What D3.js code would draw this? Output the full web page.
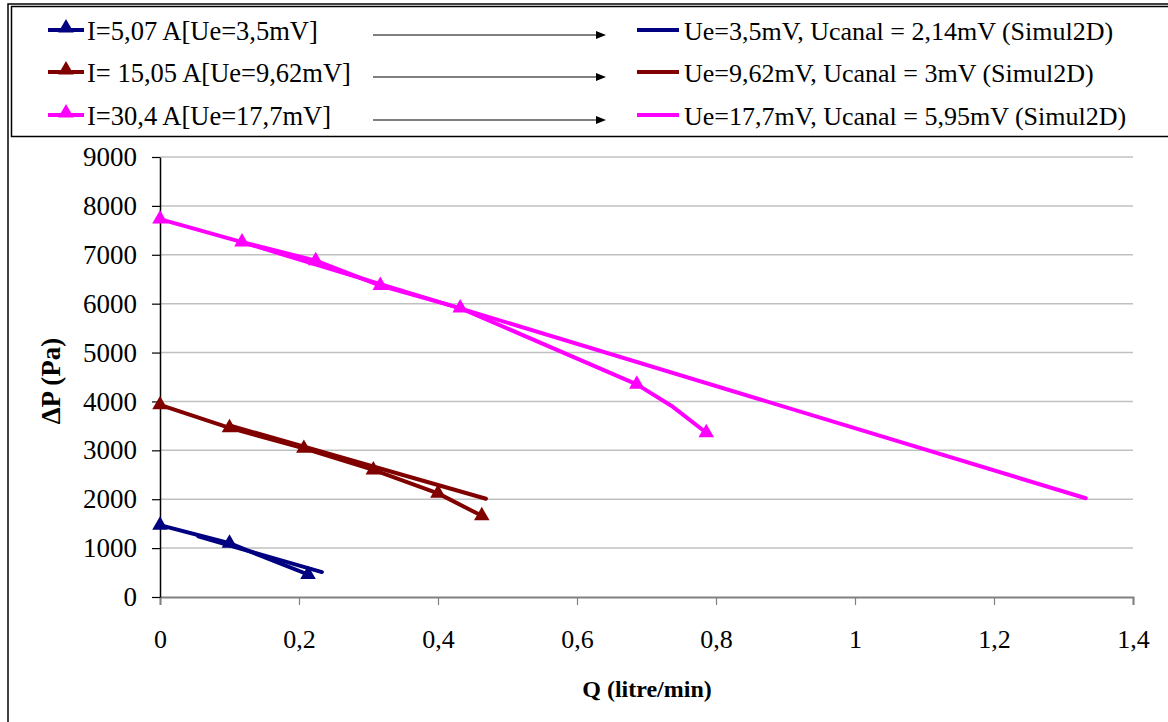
<!DOCTYPE html>
<html><head><meta charset="utf-8">
<script src="https://cdn.jsdelivr.net/npm/d3@7"></script>
<style>body{margin:0;background:#fff}svg{display:block}svg text{font-family:"Liberation Serif","Times New Roman",Times,serif}</style>
</head><body><svg id="c" width="1168" height="722"></svg>
<script>
// ---- data ----
const xTicks = [0, 0.2, 0.4, 0.6, 0.8, 1, 1.2, 1.4];
const yTicks = [0, 1000, 2000, 3000, 4000, 5000, 6000, 7000, 8000, 9000];
const seriesColors = ["#000080", "#800000", "#ff00ff"];
const expLabels = ["I=5,07 A[Ue=3,5mV]", "I= 15,05 A[Ue=9,62mV]", "I=30,4 A[Ue=17,7mV]"];
const simLabels = ["Ue=3,5mV, Ucanal = 2,14mV (Simul2D)", "Ue=9,62mV, Ucanal = 3mV (Simul2D)", "Ue=17,7mV, Ucanal = 5,95mV (Simul2D)"];
// measured series (Q, dP); marker flag: 1 = triangle shown
const exp1Q = [0, 0.1, 0.213];
const exp1P = [1470, 1100, 460];
const exp1M = [1, 1, 1];
const exp2Q = [0, 0.1, 0.207, 0.307, 0.4, 0.463];
const exp2P = [3930, 3460, 3040, 2600, 2120, 1660];
const exp2M = [1, 1, 1, 1, 1, 1];
const exp3Q = [0, 0.118, 0.224, 0.317, 0.432, 0.686, 0.738, 0.786];
const exp3P = [7730, 7260, 6880, 6370, 5910, 4350, 3890, 3360];
const exp3M = [1, 1, 1, 1, 1, 1, 0, 1];
// simulation series
const sim1Q = [0.055, 0.233];
const sim1P = [1240, 510];
const sim2Q = [0.1, 0.469];
const sim2P = [3510, 2010];
const sim3Q = [0.12, 1.332];
const sim3P = [7250, 2020];

const exps = [[exp1Q, exp1P, exp1M], [exp2Q, exp2P, exp2M], [exp3Q, exp3P, exp3M]]
  .map(([q, p, m]) => q.map((v, i) => ({q: v, p: p[i], m: m[i]})));
const sims = [[sim1Q, sim1P], [sim2Q, sim2P], [sim3Q, sim3P]]
  .map(([q, p]) => q.map((v, i) => ({q: v, p: p[i]})));

const svg = d3.select("#c");
const x = d3.scaleLinear().domain([0, 1.4]).range([160, 1133]);
const y = d3.scaleLinear().domain([0, 9000]).range([597, 157]);
const fmt = d => String(d).replace(".", ",");

// outer border
svg.append("rect").attr("x", 8).attr("y", 4).attr("width", 1170).attr("height", 730)
  .attr("fill", "none").attr("stroke", "#000").attr("stroke-width", 1.5);
// legend box
svg.append("rect").attr("x", 11.5).attr("y", 6.5).attr("width", 1170).attr("height", 130)
  .attr("fill", "#fff").attr("stroke", "#000").attr("stroke-width", 1.5);

// gridlines
svg.append("g").selectAll("line").data(yTicks.filter(d => d > 0)).join("line")
  .attr("x1", 160).attr("x2", 1133).attr("y1", d => y(d)).attr("y2", d => y(d))
  .attr("stroke", "#c0c0c0").attr("stroke-width", 1.5);

// x axis
const gx = svg.append("g").attr("transform", "translate(0,597)")
  .call(d3.axisBottom(x).tickValues(xTicks).tickFormat(fmt).tickSize(8).tickPadding(25));
gx.attr("font-family", null);
gx.select(".domain").attr("stroke", "#808080").attr("stroke-width", 2);
gx.selectAll(".tick line").attr("stroke", "#808080").attr("stroke-width", 1.2);
gx.selectAll("text").attr("font-size", 26).attr("fill", "#000");

// y axis
const gy = svg.append("g").attr("transform", "translate(160,0)")
  .call(d3.axisLeft(y).tickValues(yTicks).tickFormat(d3.format("d")).tickSize(8).tickPadding(15).tickSizeOuter(0));
gy.attr("font-family", null);
gy.select(".domain").attr("stroke", "#000").attr("stroke-width", 1.5);
gy.selectAll(".tick line").attr("stroke", "#000").attr("stroke-width", 1.2);
gy.selectAll("text").attr("font-size", 27).attr("fill", "#000");

// axis titles
svg.append("text").attr("x", 647).attr("y", 697).attr("text-anchor", "middle")
  .attr("font-size", 24).attr("font-weight", "bold").text("Q (litre/min)");
svg.append("text").attr("transform", "translate(60,381) rotate(-90)").attr("text-anchor", "middle")
  .attr("font-size", 27).attr("font-weight", "bold").text("ΔP (Pa)");

const line = d3.line().x(d => x(d.q)).y(d => y(d.p));
const tri = d3.symbol().type(d3.symbolTriangle).size(105);

// simulation lines
sims.forEach((s, i) => {
  svg.append("path").attr("d", line(s)).attr("fill", "none")
    .attr("stroke", seriesColors[i]).attr("stroke-width", 4).attr("stroke-linecap", "round");
});
// measured lines + markers
exps.forEach((s, i) => {
  svg.append("path").attr("d", line(s)).attr("fill", "none")
    .attr("stroke", seriesColors[i]).attr("stroke-width", 4).attr("stroke-linejoin", "round");
  svg.append("g").selectAll("path").data(s.filter(d => d.m)).join("path")
    .attr("d", tri).attr("transform", d => `translate(${x(d.q)},${y(d.p)})`)
    .attr("fill", seriesColors[i]);
});

// legend
const lineY = [30, 72, 115];
const lg = svg.append("g");
lineY.forEach((ry, i) => {
  lg.append("line").attr("x1", 48).attr("x2", 84).attr("y1", ry).attr("y2", ry)
    .attr("stroke", seriesColors[i]).attr("stroke-width", 4);
  lg.append("path").attr("d", tri).attr("transform", `translate(66,${ry - 2})`).attr("fill", seriesColors[i]);
  lg.append("text").attr("x", 87).attr("y", ry + 10).attr("font-size", 26.5).text(expLabels[i]);
  lg.append("line").attr("x1", 373).attr("x2", 598).attr("y1", ry + 5).attr("y2", ry + 5)
    .attr("stroke", "#000").attr("stroke-width", 1.2);
  lg.append("path").attr("d", `M596,${ry + 1}L606,${ry + 5}L596,${ry + 9}Z`).attr("fill", "#000");
  lg.append("line").attr("x1", 637).attr("x2", 679).attr("y1", ry).attr("y2", ry)
    .attr("stroke", seriesColors[i]).attr("stroke-width", 4);
  lg.append("text").attr("x", 684).attr("y", ry + 10).attr("font-size", 26).text(simLabels[i]);
});
</script></body></html>
